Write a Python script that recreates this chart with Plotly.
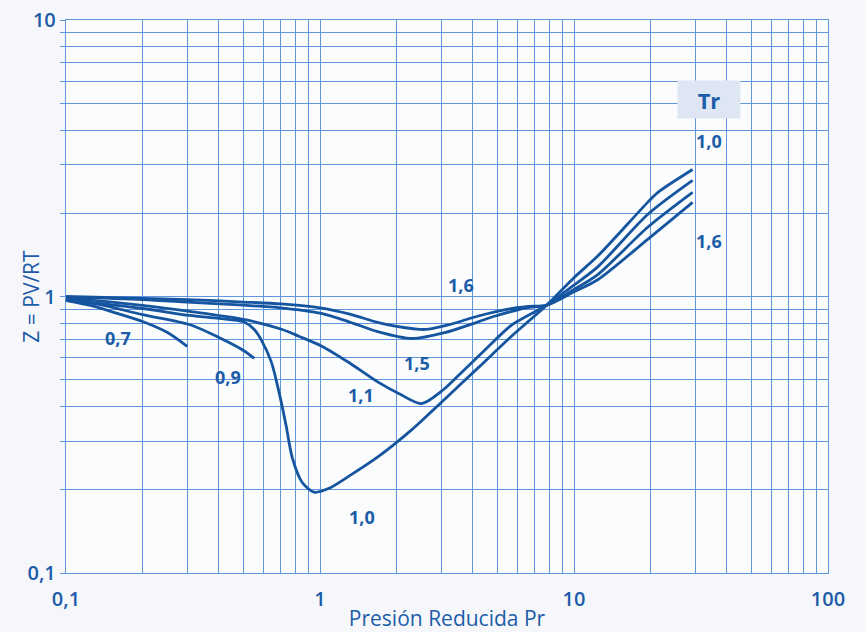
import math
import plotly.graph_objects as go

# Generalized compressibility chart: Z = PV/RT versus reduced pressure Pr,
# one curve per reduced temperature Tr.

tr_07_pr = [0.1, 0.125, 0.15, 0.2, 0.25, 0.3]
tr_07_z = [0.967, 0.928, 0.883, 0.812, 0.742, 0.66]

tr_09_pr = [0.1, 0.136, 0.2, 0.306, 0.4, 0.5, 0.551]
tr_09_z = [0.975, 0.935, 0.86, 0.792, 0.711, 0.638, 0.597]

tr_10_pr = [0.1, 0.2, 0.306, 0.4, 0.5, 0.551, 0.592, 0.643, 0.69, 0.736, 0.777, 0.85,
            0.947, 1.08, 1.30, 1.70, 2.30, 3.12, 4.2, 5.66, 7.8, 10, 12.4, 19.5, 21.4, 29.3]
tr_10_z = [0.975, 0.905, 0.854, 0.833, 0.81, 0.76, 0.687, 0.58, 0.45, 0.34, 0.262, 0.213,
           0.196, 0.202, 0.224, 0.264, 0.33, 0.428, 0.553, 0.717, 0.93, 1.17, 1.40, 2.19, 2.38, 2.88]

tr_11_pr = [0.1, 0.2, 0.306, 0.5, 0.71, 0.83, 1.02, 1.30, 1.70, 2.04, 2.51, 3.06, 3.6,
            4.52, 5.66, 7.8, 10, 12.4, 19.5, 29.3]
tr_11_z = [0.99, 0.928, 0.883, 0.826, 0.76, 0.717, 0.66, 0.577, 0.489, 0.446, 0.41, 0.46,
           0.53, 0.648, 0.786, 0.93, 1.10, 1.28, 1.98, 2.63]

tr_15_pr = [0.1, 0.2, 0.3, 0.5, 0.7, 1.0, 1.3, 1.7, 2.3, 3.1, 4.2, 4.9, 6.5, 7.8,
            10, 12.4, 19.5, 29.3]
tr_15_z = [0.995, 0.975, 0.955, 0.93, 0.91, 0.87, 0.81, 0.745, 0.705, 0.74, 0.81, 0.85,
           0.91, 0.93, 1.06, 1.20, 1.78, 2.38]

tr_16_pr = [0.1, 0.2, 0.3, 0.5, 0.7, 1.0, 1.3, 1.7, 2.0, 2.6, 3.2, 4.2, 5.5, 6.6, 7.8,
            10, 12.4, 19.5, 29.3]
tr_16_z = [1.0, 0.985, 0.975, 0.955, 0.94, 0.91, 0.865, 0.805, 0.78, 0.76, 0.79, 0.85,
           0.90, 0.92, 0.93, 1.04, 1.15, 1.61, 2.19]

series = [
    ("0,7", tr_07_pr, tr_07_z),
    ("0,9", tr_09_pr, tr_09_z),
    ("1,0", tr_10_pr, tr_10_z),
    ("1,1", tr_11_pr, tr_11_z),
    ("1,5", tr_15_pr, tr_15_z),
    ("1,6", tr_16_pr, tr_16_z),
]

# Curve labels: (text, Pr, Z)
curve_labels = [
    ("0,7", 0.16, 0.71),
    ("0,9", 0.436, 0.51),
    ("1,1", 1.45, 0.44),
    ("1,5", 2.40, 0.577),
    ("1,6", 3.6, 1.105),
    ("1,0", 1.46, 0.159),
    ("1,0", 34.1, 3.64),
    ("1,6", 34.1, 1.59),
]
legend_title = ("Tr", 34.1, 5.16)

# Log grid: every 1..9 multiple of each decade
x_grid = [m * 10 ** e for e in (-1, 0, 1) for m in range(1, 10)] + [100]
y_grid = [m * 10 ** e for e in (-1, 0) for m in range(1, 10)] + [10]
x_tick_text = {0.1: "0,1", 1: "1", 10: "10", 100: "100"}
y_tick_text = {0.1: "0,1", 1: "1", 10: "10"}

GRID = "#5f96de"
CURVE = "#15559f"
TEXT = "#1c5ca8"
FONT = "Open Sans"

fig = go.Figure()
for name, pr, z in series:
    fig.add_trace(go.Scatter(
        x=pr, y=z, mode="lines", name=name,
        line=dict(color=CURVE, width=2.8, shape="spline", smoothing=0.8),
        hoverinfo="x+y+name", showlegend=False,
    ))

for text, px_, pz in curve_labels:
    fig.add_annotation(
        x=math.log10(px_), y=math.log10(pz), text=f"<b>{text}</b>",
        showarrow=False, font=dict(family=FONT, size=18, color=TEXT),
    )

fig.add_annotation(
    x=math.log10(legend_title[1]), y=math.log10(legend_title[2]),
    text=f"<b>{legend_title[0]}</b>", showarrow=False,
    font=dict(family=FONT, size=22, color=TEXT),
    bgcolor="#dfe6f3", width=60, height=35,
)

# Vertical axis title, set close to the tick labels
fig.add_annotation(
    xref="paper", yref="paper", x=-0.047, y=0.5,
    xanchor="center", yanchor="middle",
    text="Z = PV/RT", textangle=-90, showarrow=False,
    font=dict(family=FONT, size=21, color=TEXT),
)

fig.update_xaxes(
    type="log", range=[-1, 2], automargin=False,
    tickvals=x_grid,
    ticktext=[x_tick_text.get(round(v, 6), "") for v in x_grid],
    showgrid=True, gridcolor=GRID, gridwidth=1.4,
    showline=True, linecolor=GRID, linewidth=1.4, mirror=True,
    ticks="", ticklabelstandoff=8,
    tickfont=dict(family=FONT, size=20, color=TEXT, weight=600),
    title=dict(text="Presión Reducida Pr", standoff=7,
               font=dict(family=FONT, size=21, color=TEXT)),
    zeroline=False,
)
fig.update_yaxes(
    type="log", range=[-1, 1], automargin=False,
    tickvals=y_grid,
    ticktext=[y_tick_text.get(round(v, 6), "") for v in y_grid],
    showgrid=True, gridcolor=GRID, gridwidth=1.4,
    showline=True, linecolor=GRID, linewidth=1.4, mirror=True,
    ticks="outside", ticklen=5, tickcolor=GRID, tickwidth=1.4,
    tickfont=dict(family=FONT, size=20, color=TEXT, weight=600),
    zeroline=False,
)

fig.update_layout(
    width=866, height=632,
    margin=dict(l=66, r=38, t=20, b=59),
    paper_bgcolor="#f6f7fb",
    plot_bgcolor="#fbfcfe",
)

fig.write_html("out.html")
